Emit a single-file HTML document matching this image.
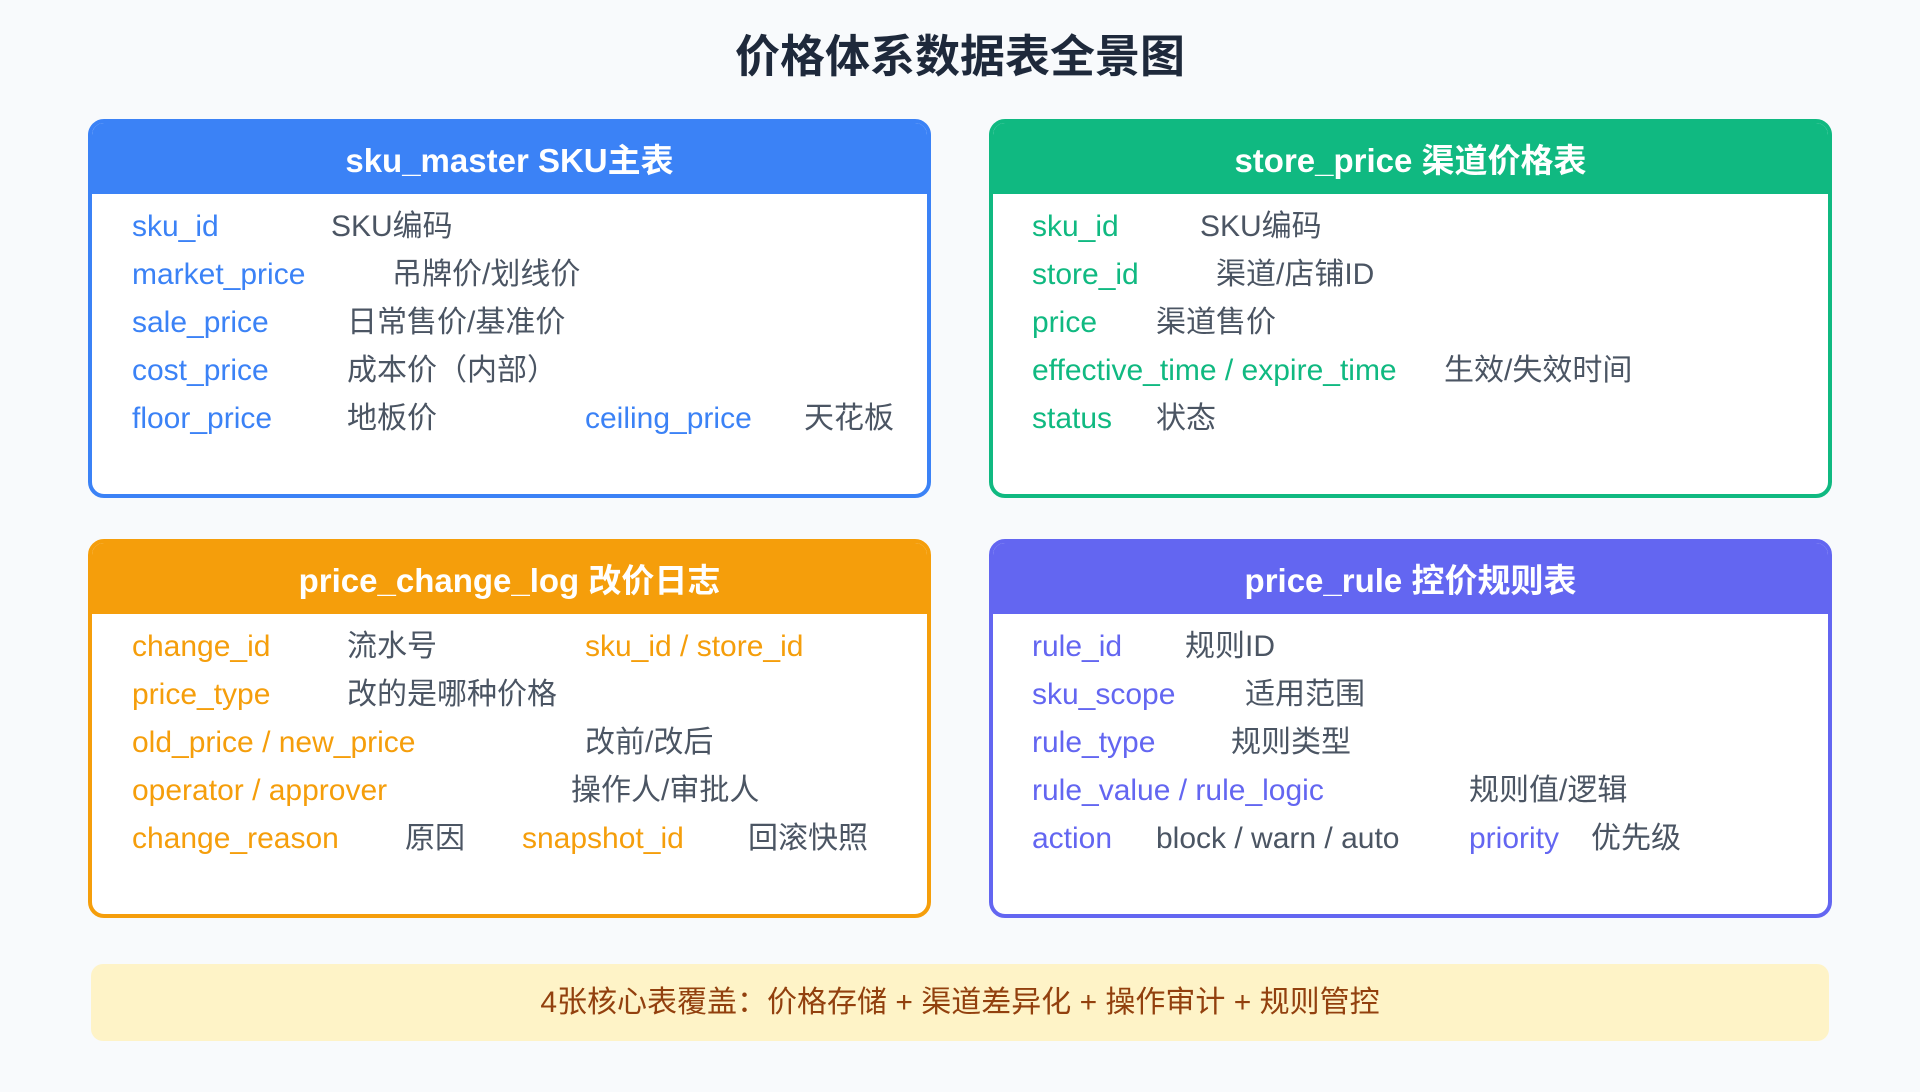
<!DOCTYPE html>
<html><head><meta charset="utf-8"><style>
*{margin:0;padding:0;box-sizing:border-box}
body{width:1920px;height:1092px;background:#f8fafc;position:relative;overflow:hidden;font-family:"Liberation Sans","Noto Sans CJK SC",sans-serif}
.title{position:absolute;left:0;top:20px;width:1920px;text-align:center;font-size:45px;font-weight:bold;color:#1e293b}
.card{position:absolute;width:843px;height:379px;background:#fff;border:4px solid;border-radius:16px;overflow:hidden}
.hd{height:71px;line-height:75px;text-align:center;color:#fff;font-size:33px;font-weight:bold}
.t{position:absolute;font-size:30px;line-height:32px;white-space:nowrap;color:#4b5563}
.footer{position:absolute;left:91px;top:964px;width:1738px;height:77px;background:#fef3c7;border-radius:12px;text-align:center;line-height:77px;font-size:30px;color:#92400e}
</style></head><body>
<div class="title">价格体系数据表全景图</div>

<div class="card" style="left:88px;top:119px;border-color:#3b82f6"><div class="hd" style="background:#3b82f6">sku_master SKU主表</div></div>
<div class="card" style="left:989px;top:119px;border-color:#10b981"><div class="hd" style="background:#10b981">store_price 渠道价格表</div></div>
<div class="card" style="left:88px;top:539px;border-color:#f59e0b"><div class="hd" style="background:#f59e0b">price_change_log 改价日志</div></div>
<div class="card" style="left:989px;top:539px;border-color:#6366f1"><div class="hd" style="background:#6366f1">price_rule 控价规则表</div></div>

<!-- card 1 -->
<div class="t" style="left:132px;top:211px;color:#3b82f6">sku_id</div><div class="t" style="left:331px;top:211px">SKU编码</div>
<div class="t" style="left:132px;top:259px;color:#3b82f6">market_price</div><div class="t" style="left:392px;top:259px">吊牌价/划线价</div>
<div class="t" style="left:132px;top:307px;color:#3b82f6">sale_price</div><div class="t" style="left:347px;top:307px">日常售价/基准价</div>
<div class="t" style="left:132px;top:355px;color:#3b82f6">cost_price</div><div class="t" style="left:347px;top:355px">成本价（内部）</div>
<div class="t" style="left:132px;top:403px;color:#3b82f6">floor_price</div><div class="t" style="left:347px;top:403px">地板价</div>
<div class="t" style="left:585px;top:403px;color:#3b82f6">ceiling_price</div><div class="t" style="left:804px;top:403px">天花板</div>

<!-- card 2 -->
<div class="t" style="left:1032px;top:211px;color:#10b981">sku_id</div><div class="t" style="left:1200px;top:211px">SKU编码</div>
<div class="t" style="left:1032px;top:259px;color:#10b981">store_id</div><div class="t" style="left:1216px;top:259px">渠道/店铺ID</div>
<div class="t" style="left:1032px;top:307px;color:#10b981">price</div><div class="t" style="left:1156px;top:307px">渠道售价</div>
<div class="t" style="left:1032px;top:355px;color:#10b981">effective_time / expire_time</div><div class="t" style="left:1444px;top:355px">生效/失效时间</div>
<div class="t" style="left:1032px;top:403px;color:#10b981">status</div><div class="t" style="left:1156px;top:403px">状态</div>

<!-- card 3 -->
<div class="t" style="left:132px;top:631px;color:#f59e0b">change_id</div><div class="t" style="left:347px;top:631px">流水号</div>
<div class="t" style="left:585px;top:631px;color:#f59e0b">sku_id / store_id</div>
<div class="t" style="left:132px;top:679px;color:#f59e0b">price_type</div><div class="t" style="left:347px;top:679px">改的是哪种价格</div>
<div class="t" style="left:132px;top:727px;color:#f59e0b">old_price / new_price</div><div class="t" style="left:585px;top:727px">改前/改后</div>
<div class="t" style="left:132px;top:775px;color:#f59e0b">operator / approver</div><div class="t" style="left:571px;top:775px">操作人/审批人</div>
<div class="t" style="left:132px;top:823px;color:#f59e0b">change_reason</div><div class="t" style="left:405px;top:823px">原因</div>
<div class="t" style="left:522px;top:823px;color:#f59e0b">snapshot_id</div><div class="t" style="left:748px;top:823px">回滚快照</div>

<!-- card 4 -->
<div class="t" style="left:1032px;top:631px;color:#6366f1">rule_id</div><div class="t" style="left:1185px;top:631px">规则ID</div>
<div class="t" style="left:1032px;top:679px;color:#6366f1">sku_scope</div><div class="t" style="left:1245px;top:679px">适用范围</div>
<div class="t" style="left:1032px;top:727px;color:#6366f1">rule_type</div><div class="t" style="left:1231px;top:727px">规则类型</div>
<div class="t" style="left:1032px;top:775px;color:#6366f1">rule_value / rule_logic</div><div class="t" style="left:1469px;top:775px">规则值/逻辑</div>
<div class="t" style="left:1032px;top:823px;color:#6366f1">action</div><div class="t" style="left:1156px;top:823px">block / warn / auto</div>
<div class="t" style="left:1469px;top:823px;color:#6366f1">priority</div><div class="t" style="left:1591px;top:823px">优先级</div>

<div class="footer">4张核心表覆盖：价格存储 + 渠道差异化 + 操作审计 + 规则管控</div>
</body></html>
